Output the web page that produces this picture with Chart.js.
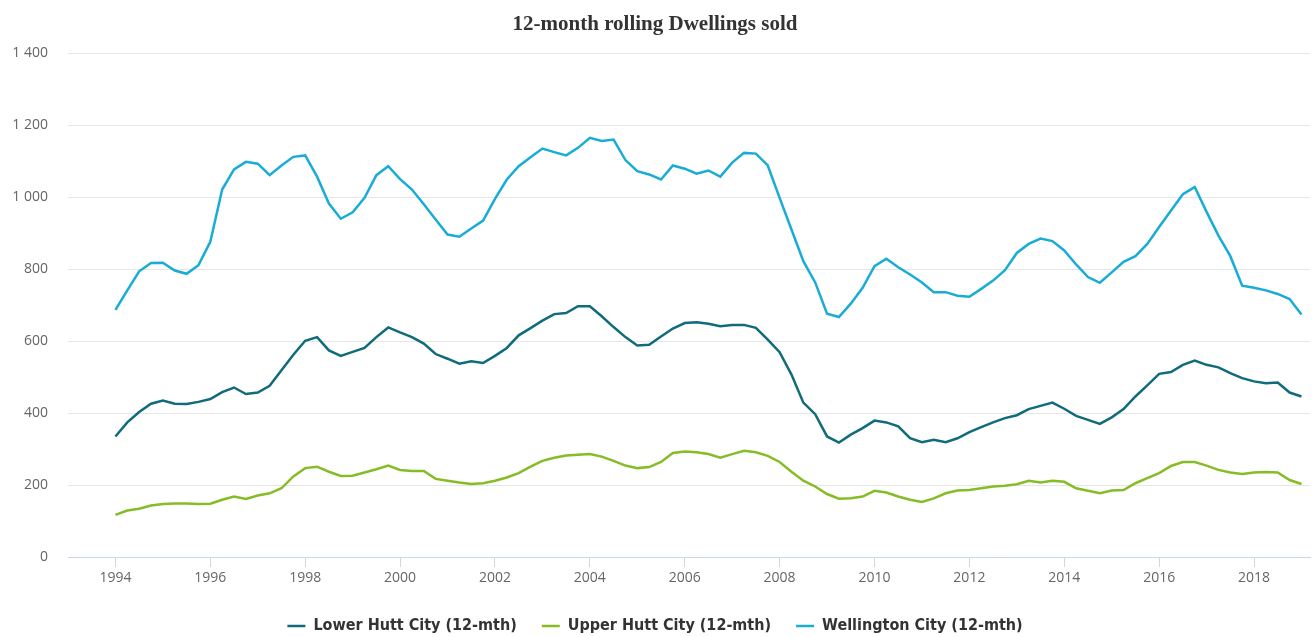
<!DOCTYPE html>
<html>
<head>
<meta charset="utf-8">
<script src="https://cdn.jsdelivr.net/npm/chart.js@4"></script>
<style>
  body { margin: 0; background: #fff; }
  canvas { display: block; }
</style>
</head>
<body>
<canvas id="plots" width="1316" height="637"></canvas>
<script>
// quarterly series, first point is 1994 Q1
var firstYear = 1994;
var tickYears = [1994, 1996, 1998, 2000, 2002, 2004, 2006, 2008, 2010, 2012, 2014, 2016, 2018];
var seriesNames = ["Lower Hutt City (12-mth)", "Upper Hutt City (12-mth)", "Wellington City (12-mth)"];

var lowerHutt = [335,374,403,426,435,426,425,431,439,458,
  471,453,457,476,519,562,601,611,574,559,
  570,581,611,638,624,611,593,564,551,537,
  544,539,559,581,616,636,657,675,678,697,
  697,669,639,611,588,590,613,635,650,652,
  648,641,645,645,637,604,569,507,429,397,
  335,318,340,358,379,374,363,330,319,326,
  319,330,347,361,374,386,394,411,420,429,
  412,392,381,370,388,411,446,477,509,514,
  534,546,534,527,511,497,488,483,485,457,
  446];

var upperHutt = [117,129,134,143,147,149,149,147,148,159,
  168,161,171,177,191,224,247,251,237,225,
  226,235,244,254,242,239,239,217,212,207,
  203,205,212,221,233,251,267,276,282,284,
  286,279,267,254,247,250,264,289,293,291,
  286,276,286,295,291,281,264,237,212,196,
  175,162,163,168,184,179,168,159,153,163,
  177,185,186,191,196,198,202,212,207,212,
  209,191,184,177,185,186,205,219,233,253,
  264,264,254,242,235,231,235,236,235,214,
  203];

var wellington = [687,741,794,817,818,796,787,811,876,1021,
  1077,1098,1093,1061,1088,1112,1116,1057,982,940,
  958,998,1061,1086,1050,1021,980,938,896,890,
  913,935,995,1049,1086,1111,1135,1125,1116,1137,
  1165,1156,1160,1103,1072,1063,1049,1088,1079,1065,
  1074,1057,1096,1123,1121,1088,998,910,822,763,
  676,667,704,748,808,829,805,785,763,736,
  736,726,723,745,768,797,845,870,885,878,
  852,813,778,762,791,820,836,870,917,963,
  1008,1028,959,893,836,754,748,741,731,717,
  674];

function toPoints(values) {
  return values.map(function (v, i) { return { x: firstYear + i / 4, y: v }; });
}

function spaced(v) {
  return String(v).replace(/\B(?=(\d{3})+(?!\d))/g, " ");
}

var tickFont = { family: "'Open Sans', sans-serif", size: 14 };

plots = document.getElementById("plots");
new Chart(plots, {
  type: 'line',
  data: {
    datasets: [
      { label: seriesNames[0], data: toPoints(lowerHutt), borderColor: '#106b7b', backgroundColor: '#106b7b' },
      { label: seriesNames[1], data: toPoints(upperHutt), borderColor: '#86bc25', backgroundColor: '#86bc25' },
      { label: seriesNames[2], data: toPoints(wellington), borderColor: '#18acd6', backgroundColor: '#18acd6' }
    ]
  },
  options: {
    responsive: false,
    animation: false,
    datasets: { line: { borderWidth: 2.5, pointRadius: 0, tension: 0, fill: false } },
    layout: { padding: { left: 0, right: 6, top: 0, bottom: 0 } },
    plugins: {
      tooltip: { enabled: false },
      title: {
        display: true,
        text: '12-month rolling Dwellings sold',
        color: '#333',
        font: { family: "'Liberation Serif', serif", size: 21, weight: 'bold' },
        padding: { top: 12, bottom: 16 }
      },
      legend: {
        position: 'bottom',
        maxHeight: 44,
        labels: {
          usePointStyle: true,
          pointStyle: 'line',
          pointStyleWidth: 18,
          padding: 25,
          color: '#333',
          font: { family: "'Liberation Sans Narrow', 'DejaVu Sans Condensed', sans-serif", size: 16, weight: 'bold' }
        }
      }
    },
    scales: {
      x: {
        type: 'linear',
        min: 1993,
        max: 2019.18,
        afterBuildTicks: function (s) { s.ticks = tickYears.map(function (y) { return { value: y }; }); },
        afterFit: function (s) { s.height = 36; },
        grid: { drawOnChartArea: false, color: '#ccd6eb', tickLength: 10 },
        border: { color: '#ccd6eb' },
        ticks: { color: '#666', font: tickFont, maxRotation: 0, autoSkip: false, callback: function (v) { return String(v); } }
      },
      y: {
        min: 0,
        max: 1400,
        afterFit: function (s) { s.width = 68; },
        grid: { color: '#e6e6e6', drawTicks: false },
        border: { display: false },
        ticks: { stepSize: 200, padding: 20, color: '#666', font: tickFont, callback: function (v) { return spaced(v); } }
      }
    }
  }
});
</script>
</body>
</html>
